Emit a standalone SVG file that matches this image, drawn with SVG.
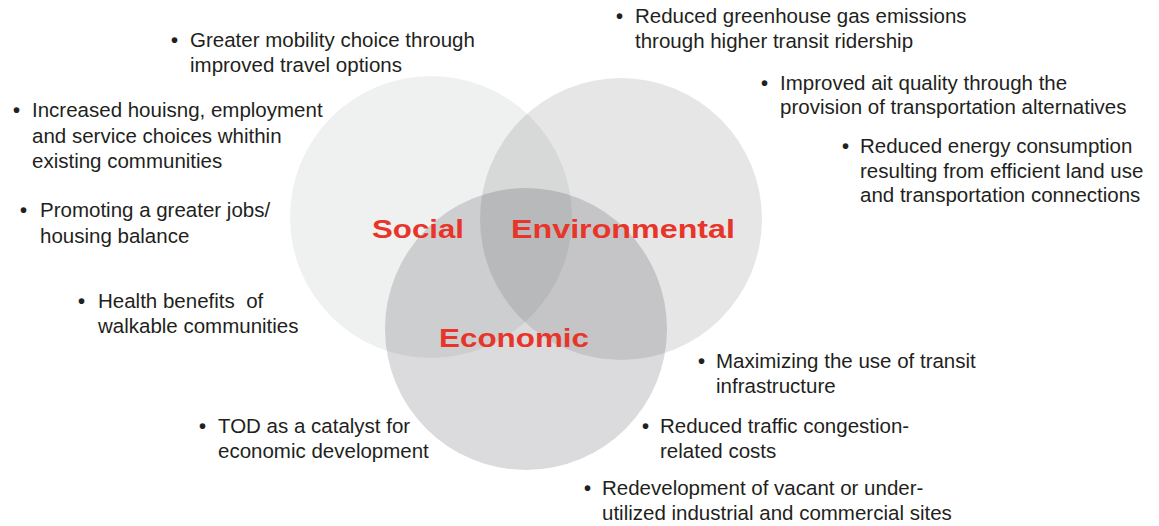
<svg xmlns="http://www.w3.org/2000/svg" width="1159" height="526" viewBox="0 0 1159 526">
<style>
.t{font-family:"Liberation Sans","DejaVu Sans",sans-serif;font-size:20.5px;fill:#231f20}
.b{font-size:20px;font-weight:bold}
.h{font-family:"Liberation Sans","DejaVu Sans",sans-serif;font-size:26px;font-weight:bold;fill:#e8352a}
</style>
<rect width="1159" height="526" fill="#ffffff"/>
<g id="circles">
<circle id="social-circle" cx="431" cy="217" r="141" fill="#1a2a2a" fill-opacity="0.07"/>
<circle id="environmental-circle" cx="621" cy="219" r="141" fill="#000000" fill-opacity="0.098"/>
<circle id="economic-circle" cx="526" cy="329" r="141" fill="#0a0a14" fill-opacity="0.145"/>
</g>
<g id="labels">
<text id="social" class="h" x="372" y="238" textLength="92" lengthAdjust="spacingAndGlyphs">Social</text>
<text id="environmental" class="h" x="511" y="238" textLength="224" lengthAdjust="spacingAndGlyphs">Environmental</text>
<text id="economic" class="h" x="439" y="347" textLength="150" lengthAdjust="spacingAndGlyphs">Economic</text>
</g>
<g id="social-points">
<g id="p-mobility">
<text class="t"><tspan class="b" x="171" y="47">•</tspan><tspan x="190" y="47">Greater mobility choice through</tspan></text>
<text class="t" x="190" y="72">improved travel options</text>
</g>
<g id="p-housing">
<text class="t"><tspan class="b" x="13" y="117">•</tspan><tspan x="32" y="117">Increased houisng, employment</tspan></text>
<text class="t" x="32" y="143">and service choices whithin</text>
<text class="t" x="32" y="168">existing communities</text>
</g>
<g id="p-jobs">
<text class="t"><tspan class="b" x="20" y="217">•</tspan><tspan x="40" y="217">Promoting a greater jobs/</tspan></text>
<text class="t" x="40" y="243">housing balance</text>
</g>
<g id="p-health">
<text class="t"><tspan class="b" x="78" y="308">•</tspan><tspan x="98" y="308">Health benefits&#160; of</tspan></text>
<text class="t" x="98" y="333">walkable communities</text>
</g>
</g>
<g id="environmental-points">
<g id="p-ghg">
<text class="t"><tspan class="b" x="616" y="23">•</tspan><tspan x="635" y="23">Reduced greenhouse gas emissions</tspan></text>
<text class="t" x="635" y="48">through higher transit ridership</text>
</g>
<g id="p-air">
<text class="t"><tspan class="b" x="761" y="90">•</tspan><tspan x="780" y="90">Improved ait quality through the</tspan></text>
<text class="t" x="780" y="114">provision of transportation alternatives</text>
</g>
<g id="p-energy">
<text class="t"><tspan class="b" x="842" y="153">•</tspan><tspan x="860" y="153">Reduced energy consumption</tspan></text>
<text class="t" x="860" y="178">resulting from efficient land use</text>
<text class="t" x="860" y="202">and transportation connections</text>
</g>
</g>
<g id="economic-points">
<g id="p-infra">
<text class="t"><tspan class="b" x="698" y="368">•</tspan><tspan x="716" y="368">Maximizing the use of transit</tspan></text>
<text class="t" x="716" y="393">infrastructure</text>
</g>
<g id="p-tod">
<text class="t"><tspan class="b" x="199" y="433">•</tspan><tspan x="218" y="433">TOD as a catalyst for</tspan></text>
<text class="t" x="218" y="458">economic development</text>
</g>
<g id="p-traffic">
<text class="t"><tspan class="b" x="642" y="433">•</tspan><tspan x="660" y="433">Reduced traffic congestion-</tspan></text>
<text class="t" x="660" y="458">related costs</text>
</g>
<g id="p-redevelopment">
<text class="t"><tspan class="b" x="584" y="495">•</tspan><tspan x="602" y="495">Redevelopment of vacant or under-</tspan></text>
<text class="t" x="602" y="520">utilized industrial and commercial sites</text>
</g>
</g>
</svg>
